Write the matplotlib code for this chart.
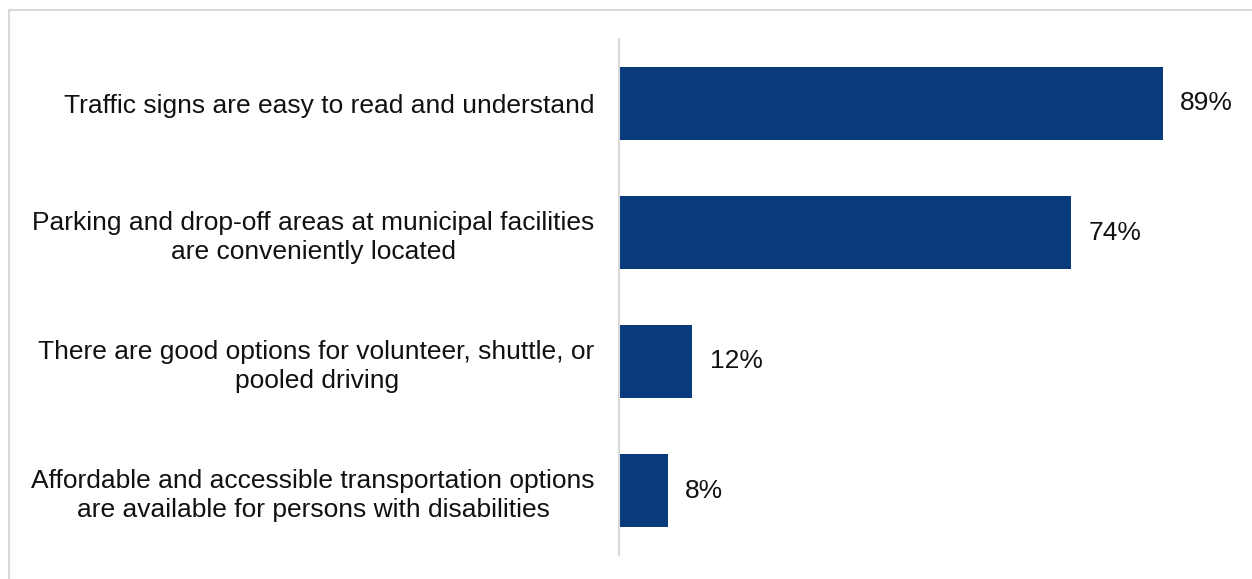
import matplotlib.pyplot as plt
from matplotlib.lines import Line2D

plt.rcParams['font.family'] = ['Liberation Sans', 'DejaVu Sans']

categories = [
    "Traffic signs are easy to read and understand",
    "Parking and drop-off areas at municipal facilities\nare conveniently located",
    "There are good options for volunteer, shuttle, or\npooled driving",
    "Affordable and accessible transportation options\nare available for persons with disabilities",
]
values = [89, 74, 12, 8]

W, H = 1252, 579
fig = plt.figure(figsize=(W / 100, H / 100), dpi=100)

# axes placed in pixel terms: left edge 619, top 39, bottom 555
ax = fig.add_axes([619 / W, 1 - 555 / H, 611 / W, (555 - 39) / H])

pos = list(range(len(categories)))
ax.barh(pos, values, height=0.57, color='#083A7C')
ax.set_ylim(len(categories) - 0.5, -0.5)
ax.set_xlim(0, 100)

for p, v in zip(pos, values):
    ax.annotate(f"{v}%", (v, p), xytext=(12.5, 0), textcoords='offset points',
                va='center', ha='left', fontsize=19, color='#111111')

ax.set_yticks(pos)
ax.set_yticklabels(categories, fontsize=19, multialignment='center',
                   linespacing=1.28, color='#111111')
ax.tick_params(axis='y', length=0, pad=17.5)
ax.set_xticks([])

for side in ['top', 'right', 'bottom']:
    ax.spines[side].set_visible(False)
ax.spines['left'].set_color('#d9d9d9')
ax.spines['left'].set_linewidth(1.5)

# thin frame lines along the top and left of the figure
fig.add_artist(Line2D([8.5 / W, 8.5 / W], [0, 1 - 9.5 / H], color='#d9d9d9', lw=1.5))
fig.add_artist(Line2D([8.5 / W, 1], [1 - 9.5 / H, 1 - 9.5 / H], color='#d9d9d9', lw=1.5))

fig.savefig('out.png', dpi=100, facecolor='white')
